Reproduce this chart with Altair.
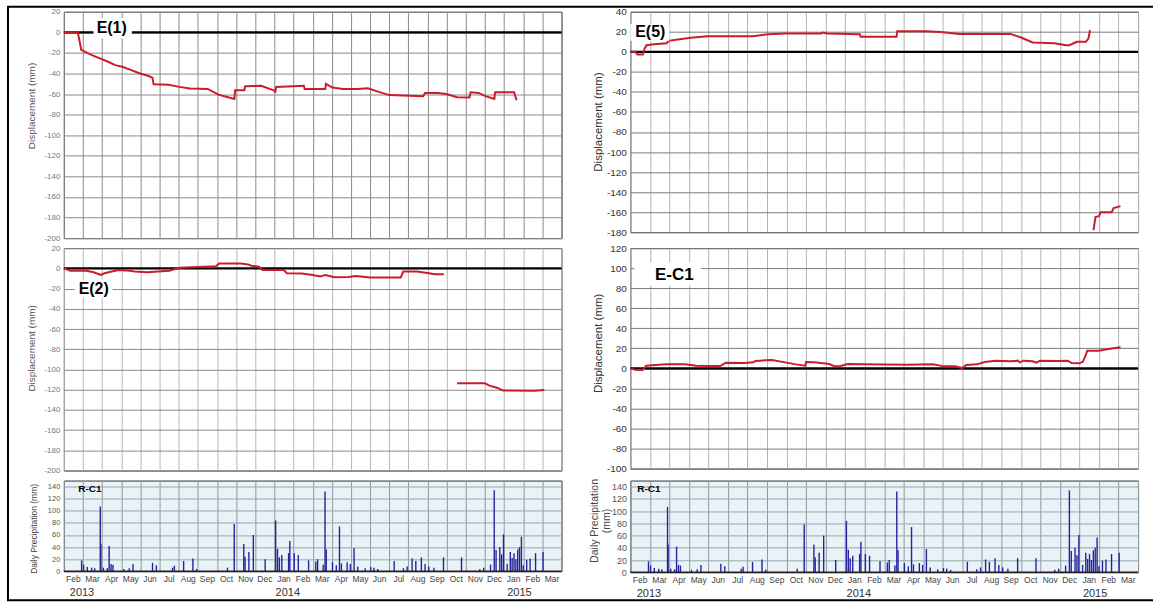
import altair as alt
import pandas as pd

FONT = "Liberation Sans"
RED = "#cc1b2b"
N_MONTHS = 26  # Feb 2013 .. Mar 2015

# month labels along the bottom axis (one per month, Feb 2013 .. Mar 2015)
month_names = ["Feb", "Mar", "Apr", "May", "Jun", "Jul", "Aug", "Sep", "Oct", "Nov", "Dec",
               "Jan", "Feb", "Mar", "Apr", "May", "Jun", "Jul", "Aug", "Sep", "Oct", "Nov", "Dec",
               "Jan", "Feb", "Mar"]
year_names = ["2013", "2014", "2015"]
year_at = [0.95, 11.7, 23.8]  # months since 1 Feb 2013

# Extensometer readings: months since 1 Feb 2013, displacement in mm
e1_month = [0.0, 0.73, 0.91, 1.38, 1.75, 2.31, 2.68, 3.05, 3.52, 3.98, 4.35, 4.63, 4.69, 5.47,
            6.03, 6.59, 7.52, 8.07, 8.63, 8.91, 8.95, 9.43, 9.47, 10.31, 10.96, 11.05, 11.09,
            12.54, 12.58, 13.66, 13.69, 14.03, 14.59, 15.33, 15.89, 16.45, 17.0, 18.77, 18.87,
            19.52, 19.98, 20.54, 21.19, 21.25, 21.66, 22.03, 22.49, 22.53, 23.52, 23.65]
e1_mm = [0, 0, -17, -21.5, -24.4, -28.6, -31.9, -33.5, -36.7, -40, -42, -44, -50.4, -51,
         -53, -54.6, -55, -60.5, -63.4, -64.7, -56.3, -56.3, -52.4, -52, -56.3, -57.6, -53,
         -52, -55, -55, -50, -53.7, -55, -55, -54.3, -57.9, -61, -62, -58.9,
         -59, -60, -63, -63.4, -58.2, -58.9, -62, -64.7, -58.2, -58.2, -66]

e2a_month = [0.0, 0.34, 1.18, 1.56, 1.93, 2.12, 2.5, 2.87, 3.25, 3.71, 4.37, 4.93, 5.5, 6.06,
             7.0, 7.94, 8.12, 9.25, 9.62, 9.8, 10.19, 10.38, 11.5, 11.65, 12.44, 13.0, 13.38,
             13.66, 14.13, 14.88, 15.25, 16.0, 17.6, 17.73, 18.44, 19.0, 19.38, 19.85]
e2a_mm = [0, -2.3, -2.3, -3.9, -6.5, -4.9, -3.2, -1.6, -2, -3.2, -3.9, -3.2, -2.3, 0.6,
          1.3, 2, 4.9, 4.9, 3.9, 2.6, 1.6, -1.6, -1.6, -4.9, -5.2, -6.5, -8.1,
          -6.5, -8.8, -8.5, -7.5, -9.1, -9.1, -3.2, -3.2, -4.5, -5.8, -5.8]
e2b_month = [20.54, 22.0, 22.2, 22.66, 22.94, 24.6, 25.1]
e2b_mm = [-113.7, -113.7, -115.7, -118.3, -120.9, -121, -120.3]

e5a_month = [0.0, 0.26, 0.36, 0.64, 0.73, 0.83, 1.2, 1.86, 1.96, 2.52, 3.09, 3.94, 4.78, 6.29,
             7.04, 7.98, 9.77, 9.87, 10.06, 11.75, 11.79, 13.63, 13.67, 15.14, 15.9, 16.84,
             19.47, 20.04, 20.6, 21.73, 22.3, 22.49, 22.86, 23.33, 23.46, 23.54]
e5a_mm = [0, 0, -2.7, -2.7, 3.3, 6.6, 7.6, 8.6, 11, 12.6, 14, 15.6, 15.6, 15.6,
          17.6, 18.3, 18.3, 19.3, 18.3, 17.6, 15, 15, 20.6, 20.6, 19.9, 17.9,
          17.9, 14, 9.3, 8.6, 6.6, 6.6, 10, 10, 13.3, 21.6]
e5b_month = [23.72, 23.82, 24.0, 24.08, 24.65, 24.75, 25.1]
e5b_mm = [-178, -165, -164, -160, -160, -156, -154]

ec1_month = [0.0, 0.25, 0.63, 0.81, 1.29, 1.86, 2.8, 3.37, 3.94, 4.6, 4.89, 5.83, 6.3, 6.4,
             6.88, 7.25, 7.92, 8.48, 8.96, 9.0, 9.43, 10.19, 10.47, 10.76, 11.14, 11.89,
             14.17, 15.49, 16.06, 16.63, 17.0, 17.2, 17.76, 18.14, 18.71, 19.47, 19.85,
             19.94, 20.13, 20.6, 20.8, 20.98, 21.9, 22.4, 22.6, 22.97, 23.16, 23.31, 23.4,
             24.0, 24.4, 25.1]
ec1_mm = [0, -1.3, -1.7, 2.7, 3.3, 4, 4, 2.7, 2.3, 2.3, 5.7, 5.3, 6, 7.3,
          8, 8.3, 6, 4, 2.7, 6.3, 6, 4.3, 2, 2.3, 4.3, 4,
          3.7, 4, 2, 2, 0.3, 3.3, 4, 6.3, 7.7, 7, 7.7,
          6, 7.7, 7, 5.7, 7.7, 7.3, 7.7, 5.3, 5, 6.3, 12.6, 17.6,
          17.6, 19, 21]

# Rain gauge R-C1: daily precipitation (mm)
precip_date = ["2013-02-27", "2013-03-02", "2013-03-08", "2013-03-15", "2013-03-20", "2013-03-29",
               "2013-03-30", "2013-04-03", "2013-04-09", "2013-04-12", "2013-04-15", "2013-04-18",
               "2013-05-05", "2013-05-14", "2013-05-20", "2013-06-20", "2013-06-26", "2013-07-22",
               "2013-07-25", "2013-08-09", "2013-08-24", "2013-08-30", "2013-10-18", "2013-10-29",
               "2013-11-13", "2013-11-15", "2013-11-21", "2013-11-28", "2013-12-17", "2014-01-03",
               "2014-01-06", "2014-01-09", "2014-01-13", "2014-01-24", "2014-01-26", "2014-02-02",
               "2014-02-08", "2014-02-23", "2014-03-06", "2014-03-09", "2014-03-18", "2014-03-21",
               "2014-03-23", "2014-04-02", "2014-04-08", "2014-04-13", "2014-04-16", "2014-04-25",
               "2014-04-30", "2014-05-06", "2014-05-12", "2014-05-24", "2014-06-02", "2014-06-07",
               "2014-06-13", "2014-07-09", "2014-07-24", "2014-07-30", "2014-08-07", "2014-08-13",
               "2014-08-22", "2014-08-28", "2014-09-03", "2014-09-11", "2014-09-26", "2014-10-25",
               "2014-11-23", "2014-11-29", "2014-12-10", "2014-12-16", "2014-12-19", "2014-12-25",
               "2014-12-28", "2014-12-31", "2015-01-06", "2015-01-11", "2015-01-14", "2015-01-17",
               "2015-01-20", "2015-01-23", "2015-01-26", "2015-01-29", "2015-02-01", "2015-02-06",
               "2015-02-11", "2015-02-19", "2015-03-02"]
precip_mm = [18, 11, 7, 6, 5, 107, 45, 6, 5, 42, 12, 11, 4, 5, 12, 14, 10, 6, 9, 17, 21, 4, 6, 78,
             45, 24, 32, 60, 20, 84, 37, 23, 27, 30, 50, 30, 27, 18, 16, 20, 11, 132, 36, 15, 10,
             74, 13, 15, 12, 38, 8, 5, 7, 6, 4, 17, 5, 8, 21, 17, 23, 12, 8, 6, 23, 23, 4, 6, 11,
             134, 35, 40, 28, 61, 12, 32, 22, 30, 20, 36, 40, 57, 10, 19, 21, 30, 32]


def month_pos(dates):
    """Fractional months elapsed since 1 Feb 2013."""
    out = []
    for d in pd.to_datetime(dates):
        k = (d.year - 2013) * 12 + d.month - 2
        out.append(k + (d.day - 1) / d.days_in_month)
    return out


ONE = pd.DataFrame({"k": [0]})
X_SCALE = alt.Scale(domain=[0, N_MONTHS], nice=False, zero=False)
HYPHEN = "datum.value < 0 ? '-' + abs(datum.value) : '' + datum.value"


def series(*parts):
    frames = []
    for i, (t, v) in enumerate(parts):
        frames.append(pd.DataFrame({"t": t, "v": v, "seg": i}))
    return pd.concat(frames, ignore_index=True)


def month_axis(color):
    return alt.Axis(values=list(range(N_MONTHS + 1)), tickCount=200, grid=True, gridColor=color,
                    gridOpacity=1, labels=False, ticks=False, domain=False, title=None)


def disp_panel(data, lo, hi, w, h, name, box, label_xy, label_size, style):
    ys = alt.Scale(domain=[lo, hi], nice=False, zero=False)
    y_axis = alt.Axis(values=list(range(lo, hi + 1, 20)), tickCount=200, grid=True,
                      gridColor=style["hgrid"], gridOpacity=1, ticks=False, domain=False,
                      labelExpr=HYPHEN, labelOverlap=False, labelFont=FONT,
                      labelFontSize=style["lsize"], labelColor=style["lcolor"],
                      labelPadding=4, title="Displacement  (mm)", titleFont=FONT,
                      titleFontSize=style["tsize"], titleFontWeight="normal",
                      titleColor=style["tcolor"], titleAngle=270, titleAlign="center",
                      titleBaseline="middle", titleX=style["tx"], titleY=style["ty"])
    line = alt.Chart(data).mark_line(color=RED, strokeWidth=2).encode(
        x=alt.X("t:Q", scale=X_SCALE, axis=month_axis(style["vgrid"])),
        y=alt.Y("v:Q", scale=ys, axis=y_axis),
        detail="seg:N",
    )
    zero = alt.Chart(ONE).mark_rule(color="black", strokeWidth=2.2).encode(y=alt.datum(0))
    bx = pd.DataFrame({"t": [box[0]], "t2": [box[1]], "v": [box[2]], "v2": [box[3]]})
    rect = alt.Chart(bx).mark_rect(fill="white").encode(
        x=alt.X("t:Q", scale=X_SCALE), x2="t2", y=alt.Y("v:Q", scale=ys), y2="v2")
    lab = pd.DataFrame({"t": [label_xy[0]], "v": [label_xy[1]], "txt": [name]})
    text = alt.Chart(lab).mark_text(font=FONT, fontSize=label_size, fontWeight="bold",
                                    color="black", align="center", baseline="middle").encode(
        x=alt.X("t:Q", scale=X_SCALE), y=alt.Y("v:Q", scale=ys), text="txt:N")
    return [zero, line, rect, text], w, h


def precip_panel(w, h, style):
    ys = alt.Scale(domain=[0, 150], nice=False, zero=False)
    df = pd.DataFrame({"t": month_pos(precip_date), "v": precip_mm})
    y_axis = alt.Axis(values=list(range(0, 141, 20)), tickCount=200, grid=True,
                      gridColor="#9aa4aa", gridOpacity=1, ticks=False, domain=False,
                      labelOverlap=False, labelFont=FONT,
                      labelFontSize=style["lsize"], labelColor="#555", labelPadding=4,
                      title=style["title"], titleFont=FONT, titleFontSize=style["tsize"],
                      titleFontWeight="normal", titleColor="#444", titleAngle=270,
                      titleAlign="center", titleBaseline="middle", titleLineHeight=12,
                      titleX=style["tx"], titleY=style["ty"])
    bars = alt.Chart(df).mark_rule(color="#2424a0", strokeWidth=1.4).encode(
        x=alt.X("t:Q", scale=X_SCALE, axis=month_axis("#8f9aa0")),
        y=alt.Y("v:Q", scale=ys, axis=y_axis),
        y2=alt.datum(0),
    )
    base = alt.Chart(ONE).mark_rule(color="#222", strokeWidth=1.5).encode(y=alt.datum(0))
    tag = alt.Chart(pd.DataFrame({"t": [style["tag_t"]], "v": [136], "txt": ["R-C1"]})).mark_text(
        font=FONT, fontSize=10, fontWeight="bold", color="black", align="left",
        baseline="middle").encode(x=alt.X("t:Q", scale=X_SCALE), y=alt.Y("v:Q", scale=ys),
                                  text="txt:N")
    months = pd.DataFrame({"t": [k + 0.5 for k in range(N_MONTHS)], "txt": month_names})
    mlab = alt.Chart(months).mark_text(font=FONT, fontSize=8.5, color="#444",
                                       baseline="middle").encode(
        x=alt.X("t:Q", scale=X_SCALE), y=alt.value(h + 8), text="txt:N")
    years = pd.DataFrame({"t": year_at, "txt": year_names})
    ylab = alt.Chart(years).mark_text(font=FONT, fontSize=11, color="#333",
                                      baseline="middle").encode(
        x=alt.X("t:Q", scale=X_SCALE), y=alt.value(h + 22), text="txt:N")
    layers = [bars, base, tag, mlab, ylab]
    return alt.layer(*layers).properties(
        width=w, height=h, view=alt.ViewBackground(fill="#e9f2f7", stroke="#333", strokeWidth=1))


LEFT_W, RIGHT_W = 499, 509

left_style = {"vgrid": "#8a8a8a", "hgrid": "#8a8a8a", "lsize": 8, "lcolor": "#777",
              "tsize": 10, "tcolor": "#555", "tx": -32, "ty": 94}
right_style = {"vgrid": "#b4b4b4", "hgrid": "#7c7c7c", "lsize": 10, "lcolor": "#333",
               "tsize": 11.5, "tcolor": "#333", "tx": -32, "ty": 110}

# E(1) with the outer frame of the figure
layers, w, h = disp_panel(series((e1_month, e1_mm)), -200, 20, LEFT_W, 227, "E(1)",
                          (1.55, 3.55, 14, -6), (2.5, 4), 16, left_style)
frame = [
    alt.Chart(ONE).mark_rule(color="black", strokeWidth=2).encode(
        x=alt.value(-57), x2=alt.value(1092), y=alt.value(-5)),
    alt.Chart(ONE).mark_rule(color="black", strokeWidth=2).encode(
        x=alt.value(-56), y=alt.value(-5), y2=alt.value(590)),
    alt.Chart(ONE).mark_rule(color="black", strokeWidth=2).encode(
        x=alt.value(-57), x2=alt.value(1092), y=alt.value(590)),
]
e1 = alt.layer(*layers, *frame).properties(width=w, height=h)

s2 = dict(left_style, vgrid="#b8b8b8", ty=100)
layers, w, h = disp_panel(series((e2a_month, e2a_mm), (e2b_month, e2b_mm)), -200, 20, LEFT_W,
                          223, "E(2)", (0.57, 2.55, -11, -29), (1.56, -20), 16, s2)
e2 = alt.layer(*layers).properties(width=w, height=h)

layers, w, h = disp_panel(series((e5a_month, e5a_mm), (e5b_month, e5b_mm)), -180, 40, RIGHT_W,
                          221, "E(5)", (0.0, 2.0, 28, 11), (1.02, 20), 16, right_style)
e5 = alt.layer(*layers).properties(width=w, height=h)

s4 = dict(right_style, ty=95)
layers, w, h = disp_panel(series((ec1_month, ec1_mm)), -100, 120, RIGHT_W, 221, "E-C1",
                          (0.2, 3.63, 106, 83), (2.25, 93), 17, s4)
ec1 = alt.layer(*layers).properties(width=w, height=h)

pl = precip_panel(LEFT_W, 91, {"lsize": 7.5, "tsize": 8.5, "tx": -30, "ty": 48,
                               "title": "Daily Precipitation  (mm)", "tag_t": 0.75})
pr = precip_panel(RIGHT_W, 92, {"lsize": 9, "tsize": 10.5, "tx": -36, "ty": 40,
                                "title": ["Daily Precipitation", "(mm)"], "tag_t": 0.35})

chart = alt.concat(e1, e5, e2, ec1, pl, pr, columns=2, spacing={"row": 10, "column": 69},
                   bounds="flush", align="each").properties(
    padding={"left": 5, "top": 4, "right": 0, "bottom": 0}
).configure_view(stroke="#333", strokeWidth=1)

chart.save("out.html", embed_options={"renderer": "svg", "actions": False})
